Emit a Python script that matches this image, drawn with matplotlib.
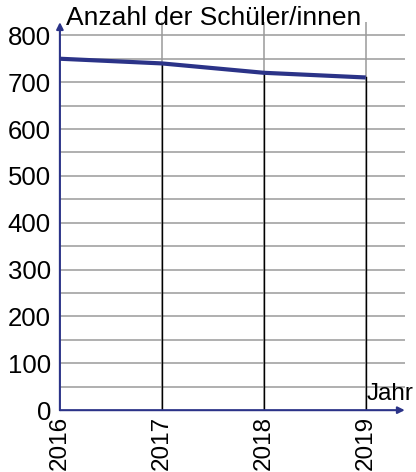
import numpy as np
from matplotlib import pyplot as plt

plt.rcParams['font.family'] = ['Liberation Sans', 'DejaVu Sans']

# data
jahre = [2016, 2017, 2018, 2019]
schueler = [750, 740, 720, 710]
y_ticks = [0, 100, 200, 300, 400, 500, 600, 700, 800]

navy = '#2b3388'

fig = plt.figure(figsize=(4.16, 4.72), dpi=100)
ax = fig.add_axes([0.144, 0.131, 0.829, 0.822])

x_max = 2016 + 345 / 102
y_max = 828
ax.set_xlim(2016, x_max)
ax.set_ylim(0, y_max)

# horizontal grid every 50
for y in range(50, 801, 50):
    ax.plot([2016, x_max], [y, y], color='#9a9a9a', lw=1.1, zorder=1)
# vertical grid (grey) and drop lines (black)
for j, s in zip(jahre[1:], schueler[1:]):
    ax.plot([j, j], [0, y_max], color='#9a9a9a', lw=1.1, zorder=1)
    ax.plot([j, j], [0, s], color='black', lw=1.0, zorder=2)

ax.plot(jahre, schueler, color=navy, lw=3, zorder=3, solid_capstyle='butt')

for sp in ax.spines.values():
    sp.set_visible(False)

# axes with arrows
ax.annotate('', xy=(2016, y_max), xytext=(2016, 0),
            arrowprops=dict(arrowstyle='-|>', color=navy, lw=1.5,
                            mutation_scale=10, shrinkA=0, shrinkB=0),
            annotation_clip=False, zorder=4)
ax.annotate('', xy=(x_max, 0), xytext=(2016, 0),
            arrowprops=dict(arrowstyle='-|>', color=navy, lw=1.5,
                            mutation_scale=10, shrinkA=0, shrinkB=0),
            annotation_clip=False, zorder=4)

ax.set_yticks(y_ticks)
ax.set_yticklabels([str(v) for v in y_ticks], fontsize=18.5)
ax.set_xticks(jahre)
ax.set_xticklabels([str(j) for j in jahre], rotation=90, fontsize=17.5)
ax.tick_params(length=0, pad=6.5)
ax.tick_params(axis='x', pad=4)

ax.text(2016.06, y_max + 8, 'Anzahl der Schüler/innen', fontsize=19,
        va='center', ha='left')
ax.text(2019.01, 10, 'Jahr', fontsize=17.5, va='bottom', ha='left')

fig.savefig('out.png', dpi=100)
